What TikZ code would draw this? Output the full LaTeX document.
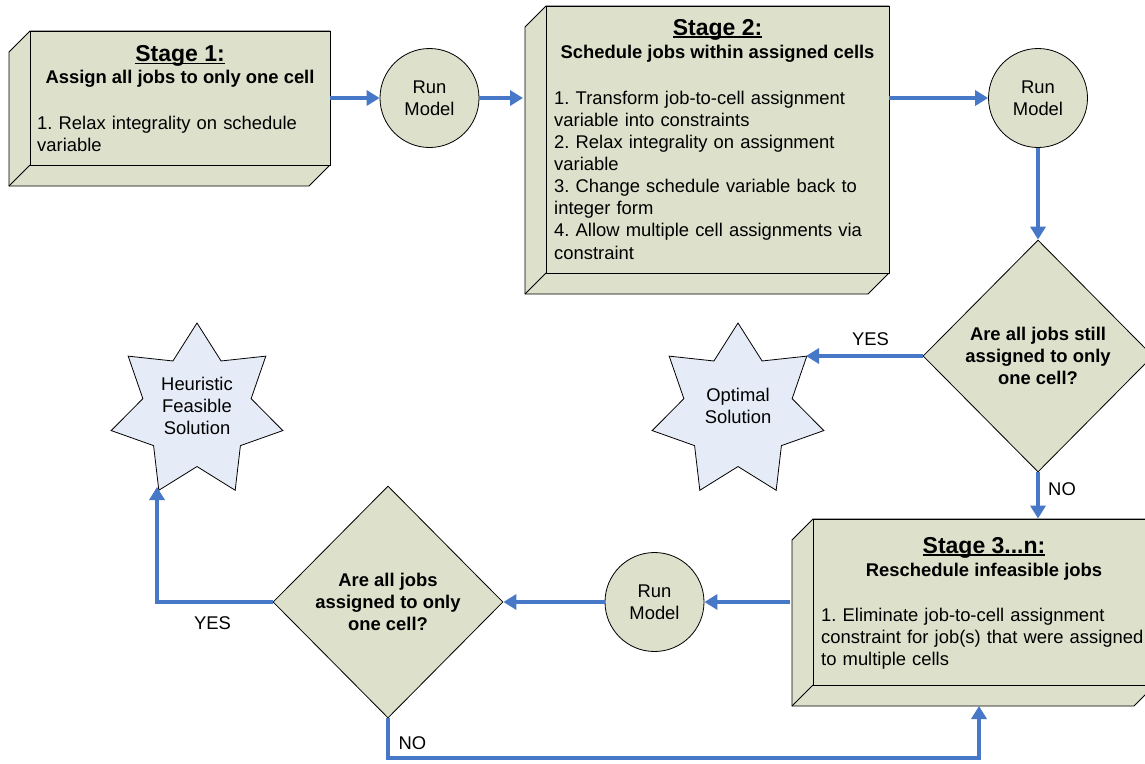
\documentclass[tikz,border=0pt]{standalone}
\usepackage{fontspec}
\setmainfont{Liberation Sans}
\usetikzlibrary{shapes.geometric,arrows.meta}
\frenchspacing
\definecolor{boxfill}{RGB}{221,224,203}
\definecolor{starfill}{RGB}{230,236,247}
\definecolor{arrowblue}{RGB}{71,119,199}
\newcommand\myul[1]{\setbox0\hbox{#1}\rlap{\rule[-2.6pt]{\wd0}{1.8pt}}\box0}
\newcommand\bodyfont{\fontsize{18.4}{22.1}\selectfont}
\newcommand\titlefont{\bfseries\fontsize{23}{27}\selectfont}
\newcommand\subfont{\bfseries\fontsize{18.4}{22.1}\selectfont}
% name, x1, y1, x2, y2 (front face), bevel depth 21
\newcommand\bevelbox[5]{%
  \filldraw[boxfill, draw=black, line width=0.9pt] (#2,#3) -- (#4,#3) -- (#4,#5) -- (#4-21,#5+21) -- (#2-21,#5+21) -- (#2-21,#3+21) -- cycle;
  \draw[line width=0.9pt] (#2,#5) -- (#2-21,#5+21);
  \node[rectangle, draw=black, fill=boxfill, line width=0.9pt, inner sep=0pt,
        minimum width=#4-#2, minimum height=#5-#3] (#1) at ({(#2+#4)/2},{(#3+#5)/2}) {};
}
\tikzset{
  runmodel/.style={circle, draw=black, fill=boxfill, line width=0.8pt, minimum size=99pt, inner sep=0pt, align=center, font=\bodyfont},
  decision/.style={diamond, aspect=1, draw=black, fill=boxfill, line width=0.8pt, minimum width=230pt, minimum height=232pt, inner sep=0pt, align=center, font=\subfont},
  burst/.style={star, star points=7, star point ratio=1.585, minimum size=176pt, inner sep=0pt, draw=black, fill=starfill, line width=0.8pt},
  flow/.style={draw=arrowblue, line width=4pt, -{Triangle[width=15pt,length=13pt]}},
  lbl/.style={font=\bodyfont, inner sep=0pt, anchor=base},
  listtext/.style={font=\bodyfont, inner sep=0pt, anchor=base west, align=left, text width=400pt},
}
\begin{document}
\begin{tikzpicture}[x=1pt,y=-1pt]
\useasboundingbox (0,0) rectangle (1145,763);
\fill[white] (0,0) rectangle (1145,763);

% Stage boxes
\bevelbox{s1}{30}{31}{330}{165}
\bevelbox{s2}{546}{6}{889}{273}
\bevelbox{s3}{813}{519}{1155}{685}

\node[lbl, font=\titlefont] (s1title) at (180,61.7) {\myul{Stage 1:}};
\node[lbl, font=\subfont] (s1sub) at (180,83.3) {Assign all jobs to only one cell};
\node[listtext] (s1list) at (37,129.5) {1. Relax integrality on schedule\\variable};

\node[lbl, font=\titlefont] (s2title) at (717.5,35) {\myul{Stage 2:}};
\node[lbl, font=\subfont] (s2sub) at (717.5,58.3) {Schedule jobs within assigned cells};
\node[listtext] (s2list) at (554,104.3) {1. Transform job-to-cell assignment\\variable into constraints\\2. Relax integrality on assignment\\variable\\3. Change schedule variable back to\\integer form\\4. Allow multiple cell assignments via\\constraint};

\node[lbl, font=\titlefont] (s3title) at (984,553) {\myul{Stage 3...n:}};
\node[lbl, font=\subfont] (s3sub) at (984,576.7) {Reschedule infeasible jobs};
\node[listtext] (s3list) at (821,621.7) {1. Eliminate job-to-cell assignment\\constraint for job(s) that were assigned\\to multiple cells};

% Run model circles
\node[runmodel] (r1) at (429.5,98) {Run\\Model};
\node[runmodel] (r2) at (1038,98) {Run\\Model};
\node[runmodel] (r3) at (654.5,602) {Run\\Model};

% Decisions
\node[decision] (d1) at (1038,356) {Are all jobs still\\assigned to only\\one cell?};
\node[decision] (d2) at (388,602) {Are all jobs\\assigned to only\\one cell?};

% Stars
\node[burst] (opt) at (738,411) {};
\node[font=\bodyfont, align=center, inner sep=0pt] (opttext) at (738,406) {Optimal\\Solution};
\node[burst] (heur) at (197,411) {};
\node[font=\bodyfont, align=center, inner sep=0pt] (heurtext) at (197,406) {Heuristic\\Feasible\\Solution};

% connector end points
\coordinate (s2in) at (523,98);
\coordinate (optin) at (806,356);
\coordinate (s3out) at (790,602);
\coordinate (heurin) at (157,487);
\coordinate (s3in) at (979,706);
\coordinate (nocorner) at (388,758);

% Connectors
\draw[flow] (s1.east |- r1.west) -- (r1.west);
\draw[flow] (r1.east) -- (s2in);
\draw[flow] (s2.east |- r2.west) -- (r2.west);
\draw[flow] (r2.south) -- (d1.north);
\draw[flow] (d1.west) -- (optin);
\draw[flow] (d1.south) -- (d1.south |- s3.north);
\draw[flow] (s3out) -- (r3.east);
\draw[flow] (r3.west) -- (d2.east);
\draw[flow] (d2.west) -| (heurin);
\draw[flow] (d2.south) -- (nocorner) -| (s3in);

% Labels
\node[lbl] (yes1) at (870.5,345) {YES};
\node[lbl] (no1) at (1062,495) {NO};
\node[lbl] (yes2) at (212.5,629) {YES};
\node[lbl] (no2) at (412.5,749) {NO};
\end{tikzpicture}
\end{document}
